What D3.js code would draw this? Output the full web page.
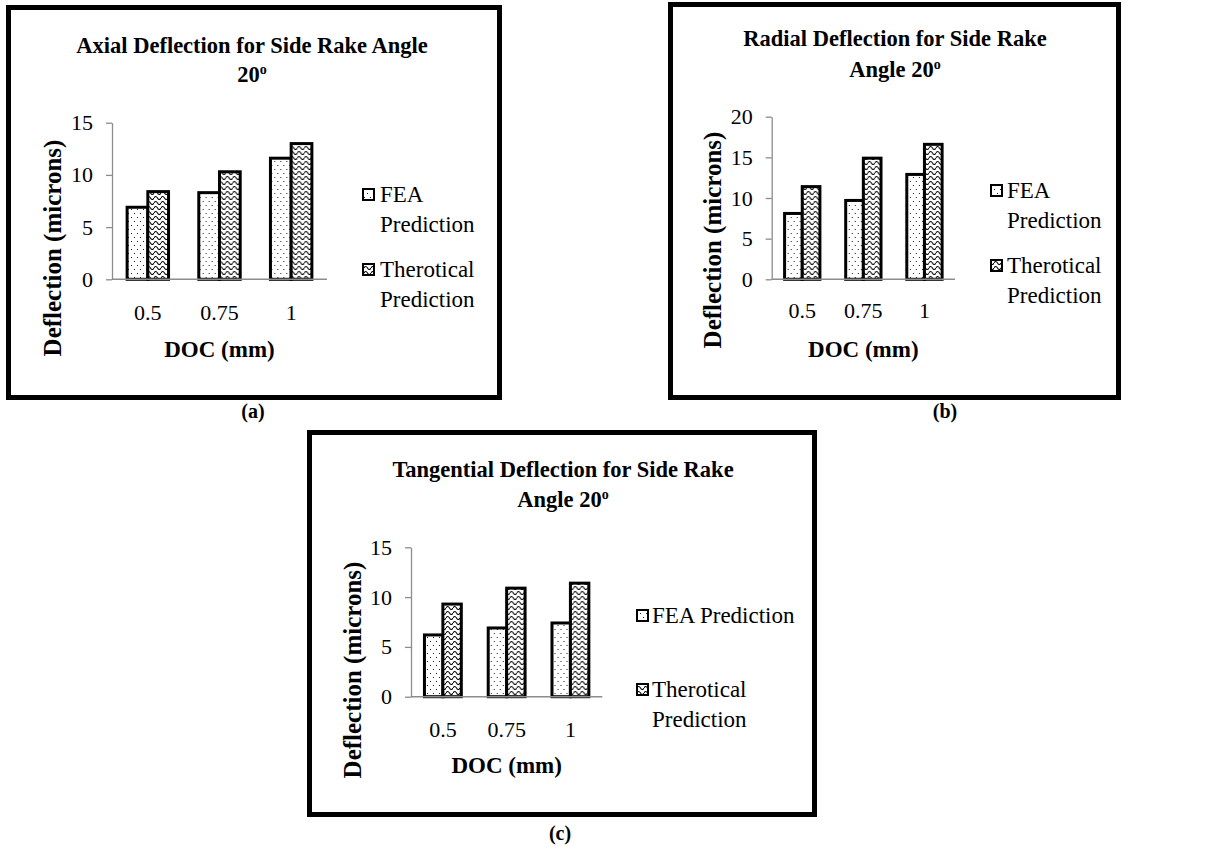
<!DOCTYPE html>
<html>
<head>
<meta charset="utf-8">
<script src="https://cdn.jsdelivr.net/npm/d3@7"></script>
<style>
  body { margin: 0; background: #fff; }
  svg { display: block; }
  text { font-family: "Liberation Serif", "Times New Roman", serif; fill: #000; }
</style>
</head>
<body>
<svg id="fig"></svg>
<script>
// values
const categories = ['0.5', '0.75', '1'];
const seriesNames = ['FEA Prediction', 'Therotical Prediction'];

const axialFEA = [6.9, 8.3, 11.6];
const axialTheo = [8.4, 10.3, 13.0];
const radialFEA = [8.1, 9.7, 12.9];
const radialTheo = [11.4, 14.9, 16.6];
const tangentialFEA = [6.2, 6.9, 7.4];
const tangentialTheo = [9.3, 10.9, 11.4];

const axialTicks = [0, 5, 10, 15];
const radialTicks = [0, 5, 10, 15, 20];
const tangentialTicks = [0, 5, 10, 15];

const width = 1214;
const height = 847;

const svg = d3.select('#fig')
  .attr('width', width)
  .attr('height', height);

const defs = svg.append('defs');

// sparse dots (FEA)
const dots = defs.append('pattern')
  .attr('id', 'dots')
  .attr('patternUnits', 'userSpaceOnUse')
  .attr('width', 6)
  .attr('height', 8);
dots.append('rect').attr('width', 6).attr('height', 8).attr('fill', '#fff');
dots.append('rect').attr('x', 1).attr('y', 1).attr('width', 1).attr('height', 1).attr('fill', '#222');
dots.append('rect').attr('x', 4).attr('y', 5).attr('width', 1).attr('height', 1).attr('fill', '#222');

// wave / zigzag (theoretical)
const wave = defs.append('pattern')
  .attr('id', 'wave')
  .attr('patternUnits', 'userSpaceOnUse')
  .attr('width', 7)
  .attr('height', 5);
wave.append('rect').attr('width', 7).attr('height', 5).attr('fill', '#fff');
wave.append('path')
  .attr('d', 'M0 3 Q1.75 0 3.5 3 T7 3')
  .attr('fill', 'none')
  .attr('stroke', '#000')
  .attr('stroke-width', 1.1);

const fills = ['url(#dots)', 'url(#wave)'];

const panels = [
  {
    frame: [8.5, 7.5, 491, 390],
    title: ['Axial Deflection for Side Rake Angle', '20'], titleX: 252, titleY: [53, 82],
    values: [axialFEA, axialTheo], ticks: axialTicks,
    x: [112, 327], y: [279.3, 122.7],
    yLabel: [52, 248], tickY: 320, xTitleY: 357,
    legend: { x: 363, text: 380, rows: [[['FEA', 'Prediction'], 202], [['Therotical', 'Prediction'], 277]] },
    caption: ['(a)', 253, 418]
  },
  {
    frame: [670.5, 4.5, 448, 393],
    title: ['Radial Deflection for Side Rake', 'Angle 20'], titleX: 895, titleY: [46, 77],
    values: [radialFEA, radialTheo], ticks: radialTicks,
    x: [771.7, 955], y: [279.3, 116.7],
    yLabel: [712, 240], tickY: 318, xTitleY: 357,
    legend: { x: 991, text: 1007, rows: [[['FEA', 'Prediction'], 198], [['Therotical', 'Prediction'], 273]] },
    caption: ['(b)', 945, 418]
  },
  {
    frame: [309.5, 432.5, 505, 382],
    title: ['Tangential Deflection for Side Rake', 'Angle 20'], titleX: 563, titleY: [477, 507],
    values: [tangentialFEA, tangentialTheo], ticks: tangentialTicks,
    x: [411, 602.3], y: [696.7, 547.3],
    yLabel: [352, 670], tickY: 737, xTitleY: 773,
    legend: { x: 637, text: 652, rows: [[['FEA Prediction'], 623], [['Therotical', 'Prediction'], 697]] },
    caption: ['(c)', 560, 840]
  }
];

panels.forEach(drawPanel);

function drawPanel(p) {
  const g = svg.append('g');

  g.append('rect')
    .attr('x', p.frame[0])
    .attr('y', p.frame[1])
    .attr('width', p.frame[2])
    .attr('height', p.frame[3])
    .attr('fill', '#fff')
    .attr('stroke', '#000')
    .attr('stroke-width', 5);

  // title, second line carries the superscript degree "o"
  g.append('text')
    .attr('x', p.titleX).attr('y', p.titleY[0])
    .attr('text-anchor', 'middle')
    .style('font-weight', 'bold').style('font-size', '22.5px')
    .text(p.title[0]);
  const t2 = g.append('text')
    .attr('x', p.titleX).attr('y', p.titleY[1])
    .attr('text-anchor', 'middle')
    .style('font-weight', 'bold').style('font-size', '22.5px');
  t2.append('tspan').text(p.title[1]);
  t2.append('tspan').attr('dy', -8).style('font-size', '14px').text('o');

  const x0 = d3.scaleBand()
    .domain(categories)
    .range(p.x);
  const x1 = d3.scaleBand()
    .domain(seriesNames)
    .range([x0.bandwidth() * 0.211, x0.bandwidth() * 0.789]);
  const y = d3.scaleLinear()
    .domain([0, d3.max(p.ticks)])
    .range(p.y);

  // y axis
  const yAxis = g.append('g')
    .attr('transform', 'translate(' + p.x[0] + ',0)')
    .call(d3.axisLeft(y).tickValues(p.ticks).tickSize(6).tickSizeOuter(0).tickPadding(13));
  yAxis.select('.domain').attr('stroke', '#8c8c8c').attr('stroke-width', 1.3);
  yAxis.selectAll('.tick line').attr('stroke', '#8c8c8c').attr('stroke-width', 1.3);
  yAxis.selectAll('.tick text')
    .style('font-family', '"Liberation Serif", serif')
    .style('font-size', '22px')
    .attr('fill', '#000');

  // bars
  const groups = g.selectAll('.grp')
    .data(categories)
    .enter().append('g')
      .attr('transform', d => 'translate(' + x0(d) + ',0)');

  groups.selectAll('rect')
    .data((d, i) => seriesNames.map((s, k) => ({ s: s, k: k, v: p.values[k][i] })))
    .enter().append('rect')
      .attr('x', d => x1(d.s))
      .attr('y', d => y(d.v))
      .attr('width', x1.bandwidth())
      .attr('height', d => y(0) - y(d.v))
      .attr('fill', d => fills[d.k])
      .attr('stroke', '#000')
      .attr('stroke-width', 3);

  // x axis line
  g.append('line')
    .attr('x1', p.x[0]).attr('x2', p.x[1])
    .attr('y1', y(0)).attr('y2', y(0))
    .attr('stroke', '#8c8c8c')
    .attr('stroke-width', 1.5);

  g.selectAll('.xlab')
    .data(categories)
    .enter().append('text')
      .attr('x', d => x0(d) + x0.bandwidth() / 2)
      .attr('y', p.tickY)
      .attr('text-anchor', 'middle')
      .style('font-size', '22px')
      .text(d => d);

  g.append('text')
    .attr('x', (p.x[0] + p.x[1]) / 2)
    .attr('y', p.xTitleY)
    .attr('text-anchor', 'middle')
    .style('font-weight', 'bold').style('font-size', '23px')
    .text('DOC (mm)');

  g.append('text')
    .attr('transform', 'translate(' + p.yLabel[0] + ',' + p.yLabel[1] + ') rotate(-90)')
    .attr('dy', '0.35em')
    .attr('text-anchor', 'middle')
    .style('font-weight', 'bold').style('font-size', '25px')
    .text('Deflection (microns)');

  // legend
  p.legend.rows.forEach((row, k) => {
    g.append('rect')
      .attr('x', p.legend.x)
      .attr('y', row[1] - 13)
      .attr('width', 11)
      .attr('height', 11)
      .attr('fill', fills[k])
      .attr('stroke', '#000')
      .attr('stroke-width', 2);
    row[0].forEach((line, j) => {
      g.append('text')
        .attr('x', p.legend.text)
        .attr('y', row[1] + j * 30)
        .style('font-size', '23px')
        .text(line);
    });
  });

  svg.append('text')
    .attr('x', p.caption[1])
    .attr('y', p.caption[2])
    .attr('text-anchor', 'middle')
    .style('font-weight', 'bold').style('font-size', '20px')
    .text(p.caption[0]);
}
</script>
</body>
</html>
